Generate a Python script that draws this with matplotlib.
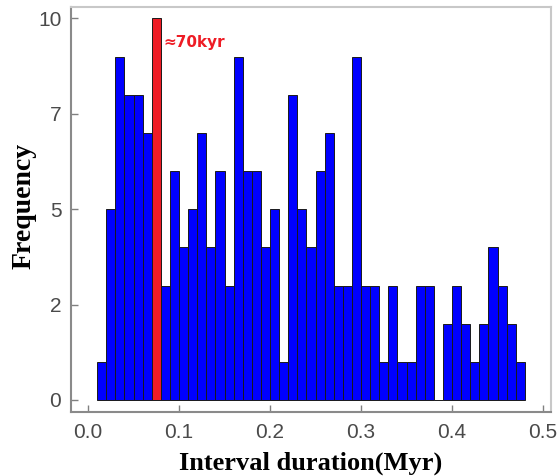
import numpy as np
import matplotlib
matplotlib.use("Agg")
import matplotlib.pyplot as plt

# histogram of interval durations, bin width 0.01 Myr starting at 0.01
bin_start = 0.01
bin_width = 0.01
counts = [1, 5, 9, 8, 8, 7, 10, 3, 6, 4,
          5, 7, 4, 6, 3, 9, 6, 6, 4, 5,
          1, 8, 5, 4, 6, 7, 3, 3, 9, 3,
          3, 1, 3, 1, 1, 3, 3, 0, 2, 3,
          2, 1, 2, 4, 3, 2, 1]
highlight_bin = 6  # the ~70 kyr bin
yticks = [0, 2.5, 5, 7.5, 10]
ytick_labels = ["0", "2", "5", "7", "10"]
xticks = [0.0, 0.1, 0.2, 0.3, 0.4, 0.5]

edges = bin_start + bin_width * np.arange(len(counts))
colors = ["#0000ff"] * len(counts)
colors[highlight_bin] = "#ee1c25"

fig = plt.figure(figsize=(5.6, 4.76), dpi=100)
ax = fig.add_axes([0.1268, 0.1345, 0.8572, 0.8508])

ax.bar(edges, counts, width=bin_width, align="edge", color=colors,
       edgecolor="#1a1a1a", linewidth=0.7)

ax.set_xlim(-0.0187, 0.5088)
ax.set_ylim(-0.315, 10.3)
ax.set_xticks(xticks)
ax.set_xticklabels([f"{t:.1f}" for t in xticks])
ax.set_yticks(yticks)
ax.set_yticklabels(ytick_labels)
ax.tick_params(direction="in", length=5, width=1, color="#808080",
               labelcolor="#4a4a4a", labelsize=15)
ax.tick_params(axis="x", pad=8)
ax.tick_params(axis="y", pad=7)
for lab in ax.get_xticklabels() + ax.get_yticklabels():
    lab.set_family("Liberation Sans")

for side in ["left", "bottom"]:
    ax.spines[side].set_color("#8a8a8a")
    ax.spines[side].set_linewidth(1.5)
for side in ["top", "right"]:
    ax.spines[side].set_color("#c8c8c8")
    ax.spines[side].set_linewidth(1.5)

ax.set_xlabel("Interval duration(Myr)", family="Liberation Serif",
              fontweight="bold", fontsize=19, labelpad=7)
ax.set_ylabel("Frequency", family="Liberation Serif",
              fontweight="bold", fontsize=20)
ax.yaxis.set_label_coords(-0.072, 0.51)

ax.text(edges[highlight_bin] + bin_width * 1.3, 9.36, "\u224870kyr",
        color="#ee1c25", fontsize=11, fontweight="bold",
        family="DejaVu Sans", va="center", ha="left")

fig.savefig("out.png", dpi=100)
